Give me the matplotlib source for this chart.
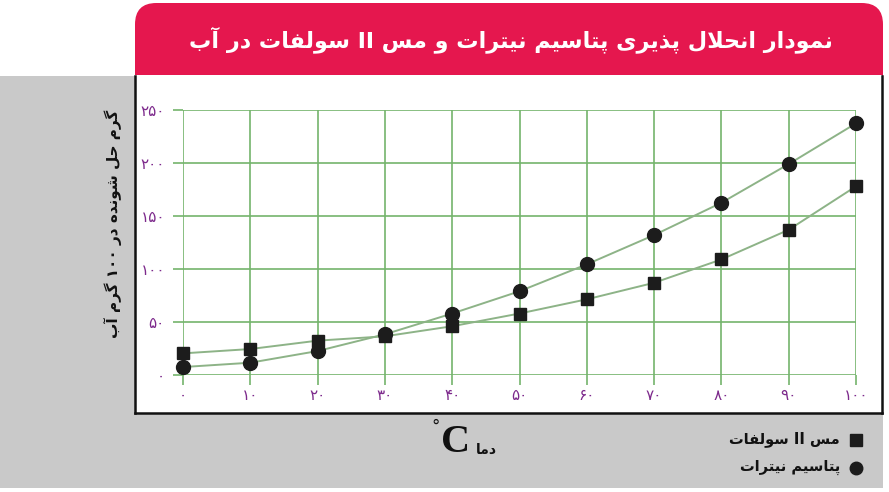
import matplotlib
matplotlib.use("Agg")
import matplotlib.pyplot as plt
from matplotlib.patches import Rectangle, FancyBboxPatch

plt.rcParams['font.family'] = ['DejaVu Sans']

# ---------------- data ----------------
temps = [0, 10, 20, 30, 40, 50, 60, 70, 80, 90, 100]
kno3 = [7.5, 11.6, 22.6, 38.4, 58, 79, 104.4, 132, 162.5, 199, 237.4]
cuso4 = [20.4, 24.5, 32.4, 36.5, 46, 58, 71.4, 87, 109, 137, 178]
x_ticks = [0, 10, 20, 30, 40, 50, 60, 70, 80, 90, 100]
y_ticks = [0, 50, 100, 150, 200, 250]
fa_digits = '۰۱۲۳۴۵۶۷۸۹'

title_txt = 'نمودار انحلال پذیری پتاسیم نیترات و مس II سولفات در آب'
ylabel_txt = 'گرم حل شونده در ۱۰۰ گرم آب'
xlabel_txt = 'دما'
leg_cu = 'مس II سولفات'
leg_k = 'پتاسیم نیترات'

# ---------------- simple Persian shaping (presentation forms) ----------------
FORMS = {
    'ا': ('\uFE8D', '\uFE8E', None, None),
    'آ': ('\uFE81', '\uFE82', None, None),
    'ب': ('\uFE8F', '\uFE90', '\uFE91', '\uFE92'),
    'پ': ('\uFB56', '\uFB57', '\uFB58', '\uFB59'),
    'ت': ('\uFE95', '\uFE96', '\uFE97', '\uFE98'),
    'ح': ('\uFEA1', '\uFEA2', '\uFEA3', '\uFEA4'),
    'د': ('\uFEA9', '\uFEAA', None, None),
    'ذ': ('\uFEAB', '\uFEAC', None, None),
    'ر': ('\uFEAD', '\uFEAE', None, None),
    'س': ('\uFEB1', '\uFEB2', '\uFEB3', '\uFEB4'),
    'ش': ('\uFEB5', '\uFEB6', '\uFEB7', '\uFEB8'),
    'ف': ('\uFED1', '\uFED2', '\uFED3', '\uFED4'),
    'ل': ('\uFEDD', '\uFEDE', '\uFEDF', '\uFEE0'),
    'م': ('\uFEE1', '\uFEE2', '\uFEE3', '\uFEE4'),
    'ن': ('\uFEE5', '\uFEE6', '\uFEE7', '\uFEE8'),
    'ه': ('\uFEE9', '\uFEEA', '\uFEEB', '\uFEEC'),
    'و': ('\uFEED', '\uFEEE', None, None),
    'ی': ('\uFBFC', '\uFBFD', '\uFBFE', '\uFBFF'),
    'گ': ('\uFB92', '\uFB93', '\uFB94', '\uFB95'),
}


def shape_word(w):
    units = []
    i = 0
    while i < len(w):
        c = w[i]
        if c == 'ل' and i + 1 < len(w) and w[i + 1] in 'اآ':
            units.append(('LA', w[i + 1]))
            i += 2
        else:
            units.append((c, None))
            i += 1
    out = []
    for k, (c, extra) in enumerate(units):
        prev = units[k - 1][0] if k > 0 else None
        prev_joins = (prev is not None and prev != 'LA' and prev in FORMS
                      and FORMS[prev][2] is not None)
        nxt = units[k + 1][0] if k + 1 < len(units) else None
        if c == 'LA':
            if extra == 'ا':
                out.append('\uFEFC' if prev_joins else '\uFEFB')
            else:
                out.append('\uFEF6' if prev_joins else '\uFEF5')
            continue
        if c not in FORMS:
            out.append(c)
            continue
        iso, fin, ini, med = FORMS[c]
        can_fwd = ini is not None and nxt is not None and (nxt == 'LA' or nxt in FORMS)
        if prev_joins and can_fwd:
            g = med
        elif prev_joins:
            g = fin
        elif can_fwd:
            g = ini
        else:
            g = iso
        out.append(g)
    return ''.join(reversed(out))


def is_arabic(t):
    return any('\u0600' <= ch <= '\u06EF' for ch in t)


def rtl(s):
    toks = s.split(' ')
    return ' '.join(reversed([shape_word(t) if is_arabic(t) else t for t in toks]))


def fa_num(n):
    return ''.join(fa_digits[int(d)] for d in str(n))


# ---------------- figure ----------------
W, H = 889, 492
fig = plt.figure(figsize=(W / 100, H / 100), dpi=100)
fig.patch.set_facecolor('white')


def fx(x):
    return x / W


def fy(y):
    return 1 - y / H


PINK = '#e5174e'
GRAY = '#c9c9c9'
GRID = '#74b46c'
CURVE = '#8db387'
PURPLE = '#7d2a8c'
DARK = '#1c1c1c'

# gray background
fig.patches.append(Rectangle((fx(0), fy(488)), fx(883), fy(76) - fy(488),
                             transform=fig.transFigure, facecolor=GRAY,
                             edgecolor='none', zorder=0))
# pink title banner with rounded top corners
fig.patches.append(FancyBboxPatch((fx(135), fy(110)), fx(883) - fx(135), fy(3) - fy(110),
                                  boxstyle='round,pad=0,rounding_size=0.024',
                                  transform=fig.transFigure, facecolor=PINK,
                                  edgecolor='none', zorder=1,
                                  mutation_aspect=W / H))
# white plot panel
fig.patches.append(Rectangle((fx(135), fy(413)), fx(882) - fx(135), fy(75) - fy(413),
                             transform=fig.transFigure, facecolor='white',
                             edgecolor='none', zorder=2))
for (x0, y0, x1, y1) in [(135, 76, 135, 413), (882, 76, 882, 413), (135, 413, 882, 413)]:
    fig.lines.append(plt.Line2D([fx(x0), fx(x1)], [fy(y0), fy(y1)],
                                transform=fig.transFigure, color='#111111',
                                lw=1.8, zorder=3))

fig.text(fx(511), fy(40), rtl(title_txt), color='white', fontsize=16,
         fontweight='bold', ha='center', va='center', zorder=5)

# ---------------- axes ----------------
ax = fig.add_axes([fx(183), fy(375), fx(856) - fx(183), fy(110) - fy(375)])
ax.set_zorder(4)
ax.patch.set_alpha(0)
ax.set_xlim(0, 100)
ax.set_ylim(0, 250)
for s in ax.spines.values():
    s.set_visible(False)
ax.set_xticks(x_ticks)
ax.set_yticks(y_ticks)
ax.set_xticklabels([fa_num(v) for v in x_ticks])
ax.set_yticklabels([fa_num(v) for v in y_ticks])
ax.tick_params(axis='both', colors=GRID, length=7, width=1.2, direction='out',
               labelcolor=PURPLE, labelsize=11)
ax.tick_params(axis='x', pad=2)
ax.tick_params(axis='y', pad=6)
ax.grid(True, color=GRID, lw=1.2)
ax.set_axisbelow(True)

ax.plot(temps, kno3, color=CURVE, lw=1.4, zorder=3, clip_on=False)
ax.plot(temps, cuso4, color=CURVE, lw=1.4, zorder=3, clip_on=False)
ax.plot(temps, kno3, linestyle='none', marker='o', ms=10, color=DARK,
        zorder=4, clip_on=False)
ax.plot(temps, cuso4, linestyle='none', marker='s', ms=8.5, color=DARK,
        zorder=5, clip_on=False)

# y label
fig.text(fx(113), fy(224), rtl(ylabel_txt), rotation=90, fontsize=11,
         fontweight='bold', color='#111111', ha='center', va='center', zorder=5)

# x label
fig.text(fx(456), fy(443), 'C', fontsize=29, family='Liberation Serif',
         fontweight='bold', color='#111111', ha='center', va='center', zorder=5)
fig.text(fx(436), fy(427), '°', fontsize=12, color='#111111',
         ha='center', va='center', zorder=5)
fig.text(fx(486), fy(450), rtl(xlabel_txt), fontsize=10, fontweight='bold',
         color='#111111', ha='center', va='center', zorder=5)

# legend
fig.lines.append(plt.Line2D([fx(856)], [fy(440)], transform=fig.transFigure,
                            marker='s', ms=8, color=DARK, linestyle='none', zorder=5))
fig.lines.append(plt.Line2D([fx(856)], [fy(468)], transform=fig.transFigure,
                            marker='o', ms=9, color=DARK, linestyle='none', zorder=5))
fig.text(fx(840), fy(439), rtl(leg_cu), fontsize=10.5, fontweight='bold',
         color='#111111', ha='right', va='center', zorder=5)
fig.text(fx(840), fy(467), rtl(leg_k), fontsize=10.5, fontweight='bold',
         color='#111111', ha='right', va='center', zorder=5)

fig.savefig('out.png', dpi=100, facecolor='white')
